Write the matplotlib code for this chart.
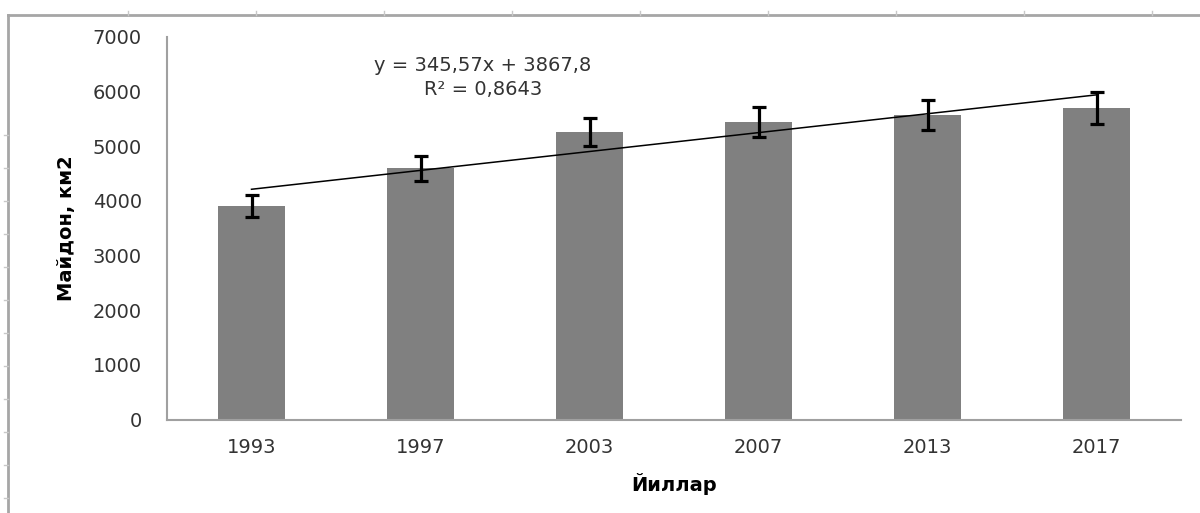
import matplotlib
matplotlib.use("Agg")
import matplotlib.pyplot as plt
from matplotlib.lines import Line2D
import numpy as np

# Data
years = ["1993", "1997", "2003", "2007", "2013", "2017"]
area = [3905, 4595, 5260, 5445, 5570, 5700]
err_pct = 0.05
slope = 345.57
intercept = 3867.8
r2_text = "R² = 0,8643"
eq_text = "y = 345,57x + 3867,8"
y_ticks = [0, 1000, 2000, 3000, 4000, 5000, 6000, 7000]

W, H = 1200, 513
fig = plt.figure(figsize=(W / 100, H / 100), dpi=100)
fig.patch.set_facecolor("white")

ax = fig.add_axes([167 / W, 1 - 419.5 / H, (1181 - 167) / W, (419.5 - 37) / H])

x = np.arange(len(years))
vals = np.array(area, dtype=float)
ax.bar(x, vals, width=0.4, color="#808080", zorder=2)
ax.errorbar(x, vals, yerr=vals * err_pct, fmt="none", ecolor="black",
            elinewidth=2.3, capsize=4.7, capthick=2.3, zorder=4)

# Linear trendline from its equation (x runs 1..n)
xt = x + 1
ax.plot(x, slope * xt + intercept, color="black", lw=1.1, zorder=3)

ax.set_xlim(-0.5, len(years) - 0.5)
ax.set_ylim(0, 7000)
ax.set_yticks(y_ticks)
ax.set_yticklabels([str(v) for v in y_ticks])
ax.set_xticks(x)
ax.set_xticklabels(years)
ax.tick_params(axis="both", length=0, labelsize=14, colors="#333333")
ax.tick_params(axis="y", pad=18)
ax.tick_params(axis="x", pad=13)

for s in ["top", "right"]:
    ax.spines[s].set_visible(False)
for s in ["left", "bottom"]:
    ax.spines[s].set_color("#a0a0a0")
    ax.spines[s].set_linewidth(1.5)

ax.set_ylabel("Майдон, км2", fontsize=14, fontweight="bold", color="black", labelpad=12)
ax.set_xlabel("Йиллар", fontsize=14, fontweight="bold", color="black", labelpad=12)

ax.text(1.37, 6480, eq_text, ha="center", va="center", fontsize=14, color="#333333")
ax.text(1.37, 6040, r2_text, ha="center", va="center", fontsize=14, color="#333333")

# Outer frame with ruler ticks
frame_col = "#a6a6a6"
fig.add_artist(Line2D([8 / W, 1.0], [1 - 15 / H] * 2, color=frame_col, lw=2.0))
fig.add_artist(Line2D([8 / W] * 2, [0.0, 1 - 15 / H], color=frame_col, lw=2.0))
for xp in np.arange(128, 1200, 128):
    fig.add_artist(Line2D([xp / W] * 2, [1 - 15 / H, 1 - 11 / H], color="#c8c8c8", lw=1.0))
for yp in np.arange(135, 513, 33):
    fig.add_artist(Line2D([4 / W, 8 / W], [1 - yp / H] * 2, color="#c8c8c8", lw=1.0))

fig.savefig("out.png", dpi=100, facecolor="white")
